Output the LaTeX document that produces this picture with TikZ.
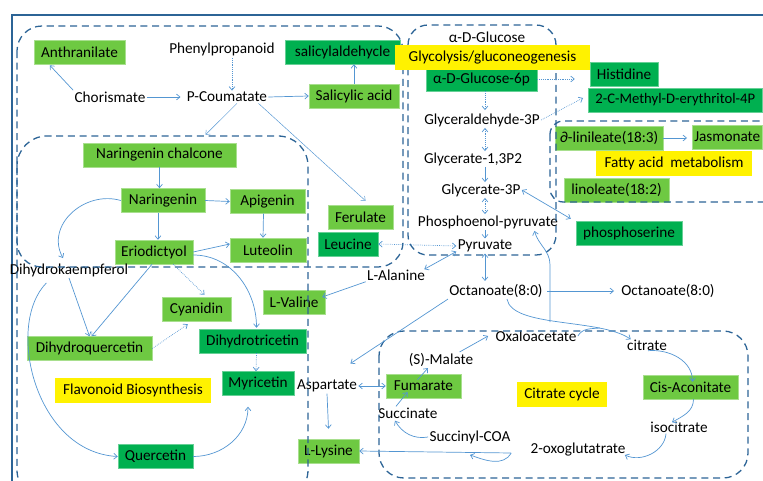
\documentclass[tikz,border=0pt]{standalone}
\usepackage{fontspec}
\setmainfont{Carlito}
\usetikzlibrary{arrows.meta,calc}

\definecolor{lgreen}{RGB}{110,201,66}
\definecolor{dgreen}{RGB}{0,176,80}
\definecolor{ablue}{RGB}{84,150,210}
\definecolor{fblue}{RGB}{44,100,150}

\tikzset{
  >={Straight Barb[length=3pt,width=5pt]},
  lbl/.style={inner sep=1pt, font=\fontsize{13}{15}\selectfont},
  gbox/.style={lbl, fill=lgreen, draw=lgreen!60!white, minimum height=24*0.03cm},
  dbox/.style={gbox, fill=dgreen, draw=dgreen!60!white},
  ybox/.style={lbl, fill=yellow, minimum height=25*0.03cm},
  bw/.style={minimum width=#1*0.03cm},
  arr/.style={->, ablue, line width=0.6pt},
  darr/.style={arr, densely dotted},
  pbox/.style={fblue, line width=1.1pt, dash pattern=on 6pt off 4pt}
}

\begin{document}
\begin{tikzpicture}[x=0.03cm,y=-0.03cm]
  \useasboundingbox (0,0) rectangle (763,480);
  \clip (0,0) rectangle (763,480);
  \draw[fblue, line width=1pt] (12,15) rectangle (790,500);

  % phenylpropanoid part
  \node[gbox, bw=91] (anth) at (79.5,52) {Anthranilate};
  \node[lbl] (phen) at (222,49) {Phenylpropanoid};
  \node[dbox, bw=115] (salald) at (342.5,52) {salicylaldehycle};
  \node[lbl] (chor) at (110,97) {Chorismate};
  \node[lbl] (pcou) at (227,97) {P-Coumatate};
  \node[gbox, bw=90] (salac) at (354,96) {Salicylic acid};
  \node[gbox, bw=65] (fer) at (360.5,217) {Ferulate};
  \node[dbox, bw=60] (leu) at (348,244) {Leucine};

  % glycolysis
  \node[lbl] (glc) at (487,37) {α-D-Glucose};
  \node[dbox, bw=111] (g6p) at (481.5,79) {α-D-Glucose-6p};
  \node[dbox, bw=68] (his) at (624,74) {Histidine};
  \node[dbox, bw=174, font=\fontsize{12.5}{15}\selectfont, anchor=west] (mep) at (588,100) {2-C-Methyl-D-erythritol-4P};
  \node[lbl] (gap) at (482,120) {Glyceraldehyde-3P};
  \node[lbl] (bpg) at (473,159) {Glycerate-1,3P2};
  \node[lbl] (g3p) at (481,190) {Glycerate-3P};
  \node[lbl] (pep) at (488,222) {Phosphoenol-pyruvate};
  \node[lbl] (pyr) at (485,246) {Pyruvate};
  \node[dbox, bw=106] (phser) at (629,233) {phosphoserine};
  \node[lbl] (ala) at (396,275) {L-Alanine};
  \node[gbox, bw=62] (val) at (294,302) {L-Valine};
  \node[lbl] (oct) at (496,291) {Octanoate(8:0)};
  \node[lbl] (octr) at (668,291) {Octanoate(8:0)};

  % fatty acids
  \node[gbox, bw=108] (lin3) at (609,138) {∂-linileate(18:3)};
  \node[gbox, bw=70, inner xsep=0.5pt, anchor=west] (jas) at (692,137) {Jasmonate};
  \node[gbox, bw=105] (lin2) at (616.5,190) {linoleate(18:2)};

  % citrate cycle
  \node[lbl] (oaa) at (536,336) {Oxaloacetate};
  \node[lbl] (cit) at (647,345) {citrate};
  \node[gbox, bw=95] (cisa) at (690.5,387) {Cis-Aconitate};
  \node[lbl] (icit) at (679,427) {isocitrate};
  \node[lbl] (akg) at (578,450) {2-oxoglutatrate};
  \node[lbl] (sca) at (470,437) {Succinyl-COA};
  \node[lbl] (succ) at (408,413) {Succinate};
  \node[gbox, bw=75] (fum) at (423.5,386) {Fumarate};
  \node[lbl] (mal) at (441,360) {(S)-Malate};
  \node[lbl] (asp) at (327,386) {Aspartate};
  \node[gbox, bw=61] (lys) at (328.5,451) {L-Lysine};

  % flavonoids
  \node[gbox, bw=153] (nchal) at (159.5,155) {Naringenin chalcone};
  \node[gbox, bw=84] (nar) at (163,200.5) {Naringenin};
  \node[gbox, bw=75] (api) at (267.5,201.5) {Apigenin};
  \node[gbox, bw=78] (eri) at (154,252) {Eriodictyol};
  \node[gbox, bw=76] (lut) at (268,250) {Luteolin};
  \node[lbl] (dhk) at (69,270) {Dihydrokaempferol};
  \node[gbox, bw=125] (dhq) at (89.5,348.5) {Dihydroquercetin};
  \node[gbox, bw=69] (cya) at (196.5,309) {Cyanidin};
  \node[dbox, bw=107] (dht) at (252.5,341) {Dihydrotricetin};
  \node[dbox, bw=72] (myr) at (258,383.5) {Myricetin};
  \node[dbox, bw=75] (que) at (155.5,456.5) {Quercetin};

  % pathway borders
  \draw[pbox, rounded corners=0.75cm] (17,26) rectangle (403,267);
  \draw[pbox, rounded corners=0.9cm] (17,136) rectangle (308,500);
  \draw[pbox, rounded corners=0.6cm] (408,25) rectangle (556,255);
  \draw[pbox, rounded corners=0.4cm] (550,121) rectangle (800,202);
  \draw[pbox, rounded corners=0.75cm] (379,331) rectangle (748,478);

  \node[ybox, bw=195] (glyco) at (492.5,57.5) {Glycolysis/gluconeogenesis};
  \node[ybox, bw=156] (fam) at (674,163) {Fatty acid\ \ metabolism};
  \node[ybox, bw=156] (flav) at (133,390) {Flavonoid Biosynthesis};
  \node[ybox, bw=90] (cyc) at (562,394.5) {Citrate cycle};

  % connectors, top
  \draw[arr] (chor.north west) -- ($(anth.south west)+(16,1)$);
  \draw[arr] (chor.east) -- ($(pcou.west)+(-5,0)$);
  \draw[darr] ($(phen.south)+(10,1)$) -- ($(pcou.north)+(5,0)$);
  \draw[arr] (pcou.east) -- (salac.west);
  \draw[arr] (salac.north) -- (salac.north |- salald.south);
  \draw[arr, thin] ($(pcou.south)+(10,0)$) -- ($(nchal.north)+(46,-8)$);
  \draw[arr, thin] ($(pcou.south east)+(-10,0)$) -- ($(fer.north)+(5,-4)$);

  % glycolysis
  \draw[darr] (g6p.east) -- ($(his.west)+(-15,5)$);
  \draw[darr] (gap.east) -- ($(mep.west)+(-5,-2)$);
  \draw[darr] (g6p.south -| pyr) -- ($(gap.north -| pyr)+(0,-2)$);
  \draw[darr, <->] (gap.south -| pyr) -- (bpg.north -| pyr);
  \draw[arr] (bpg.south -| pyr) -- (g3p.north -| pyr);
  \draw[darr, <->] (g3p.south -| pyr) -- (pep.north -| pyr);
  \draw[arr] (pep.south -| pyr) -- (pyr.north);
  \draw[arr, <->] (pyr.south) -- ($(oct.north -| pyr)+(0,-2)$);
  \draw[arr, <->] (g3p.east) -- ($(phser.north west)+(-5,-2)$);
  \draw[darr, <->] (leu.east) -- (pyr.west);
  \draw[arr, <->] ($(pyr.south west)+(0,-2)$) -- ($(ala.north east)+(-2,1)$);
  \draw[arr] (ala.south west) -- ($(val.east)+(-3,-5)$);
  \draw[arr] (oct.south west) -- ($(asp.north east)+(-8,-15)$);
  \draw[arr] ($(oct.east)+(3,0)$) -- ($(octr.west)+(-6,0)$);

  % citrate cycle
  \coordinate (tcaout) at (550,322);
  \draw[arr] (tcaout) -- (550,265) to[out=90,in=-75] ($(pep.south east)+(-25,1)$);
  \draw[arr] ($(oct.south)+(11,0)$) .. controls (512,328) and (600,318) .. ($(cit.north west)+(5,1)$);
  \draw[ablue, line width=0.6pt] (oaa.east) to[out=60,in=185] (600,328);
  \draw[arr] ($(cit.south)+(1,-1)$) to[out=5,in=90] ($(cisa.north)+(2,7)$);
  \draw[arr] ($(cisa.south)+(3,0)$) to[out=-90,in=30] ($(icit.north)+(-7,2)$);
  \draw[arr] ($(icit.south)+(-13,0)$) to[out=-95,in=-25] ($(akg.east)+(-2,5)$);
  \draw[arr] ($(akg.west)+(-18,3)$) -- (lys.east);
  \draw[arr] ($(akg.west)+(-18,3)$) to[out=-120,in=-20] ($(sca.south)+(0,10)$);
  \draw[arr] (sca.west) to[out=190,in=-60] ($(succ.south)+(-13,1)$);
  \draw[arr] ($(succ.north)+(-12,0)$) -- ($(fum.south)+(-16,-6)$);
  \draw[arr] ($(fum.north)+(-6,6)$) -- ($(mal.south)+(-13,0)$);
  \draw[arr] ($(mal.north east)+(-15,0)$) -- ($(oaa.west)+(-6,0)$);
  \draw[arr, <->] (asp.east) -- (fum.west);
  \draw[arr] (asp.south) -- ($(lys.north)+(0,-10)$);

  % fatty acids
  \draw[arr] (lin3.east) -- ($(jas.west)+(-5,1)$);

  % flavonoids
  \draw[arr] (nchal.south) -- (nchal.south |- nar.north);
  \draw[arr] (nar.east) -- (api.west);
  \draw[arr] ($(nar.south)+(-5,0)$) -- ($(eri.north)+(4,0)$);
  \draw[arr] ($(api.south)+(-4,0)$) -- ($(lut.north)+(-5,0)$);
  \draw[arr] (eri.east) -- ($(lut.west)+(0,-6)$);
  \draw[arr] (nar.west) .. controls (85,190) and (45,225) .. ($(dhk.north)+(-6,-4)$);
  \draw[arr] (dhk.south) -- (dhq.north);
  \draw[arr] ($(eri.south)+(-2,0)$) -- ($(dhq.north)+(2,0)$);
  \draw[darr] ($(eri.south east)+(-20,0)$) -- ($(cya.north)+(8,-2)$);
  \draw[arr] ($(eri.east)+(0,3)$) to[out=0,in=90] ($(dht.north)+(4,-1)$);
  \draw[darr] (dhq.east) -- ($(cya.south west)+(26,3)$);
  \draw[darr] ($(dht.south)+(4,0)$) -- ($(myr.north)+(-2,0)$);
  \draw[arr] (que.east) to[out=0,in=-90] ($(myr.south)+(-10,11)$);
  \draw[arr] ($(dhk.south west)+(38,5)$) .. controls (5,325) and (35,452) .. (que.west);
\end{tikzpicture}
\end{document}
